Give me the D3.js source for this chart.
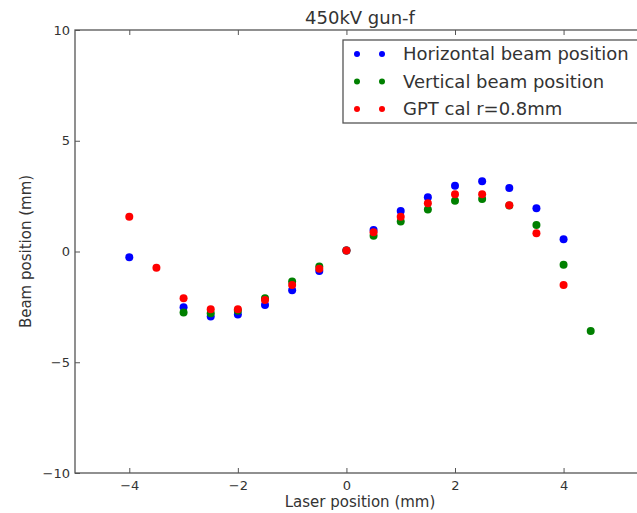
<!DOCTYPE html>
<html>
<head>
<meta charset="utf-8">
<script src="https://cdnjs.cloudflare.com/ajax/libs/d3/7.8.5/d3.min.js"></script>
<style>
  body { margin: 0; background: #fff; }
  svg { display: block; font-family: "DejaVu Sans", sans-serif; }
</style>
</head>
<body>
<svg width="637" height="513"></svg>
<script>
// values
var xTicks = [-4, -2, 0, 2, 4];
var yTicks = [-10, -5, 0, 5, 10];

var horizX = [-4, -3, -2.5, -2, -1.5, -1, -0.5, 0, 0.5, 1, 1.5, 2, 2.5, 3, 3.5, 4];
var horizY = [-0.26, -2.52, -2.94, -2.84, -2.42, -1.75, -0.88, 0.05, 0.97, 1.83, 2.45, 2.97, 3.17, 2.87, 1.95, 0.55];

var vertX = [-3, -2.5, -2, -1.5, -1, -0.5, 0, 0.5, 1, 1.5, 2, 2.5, 3, 3.5, 4, 4.5];
var vertY = [-2.75, -2.79, -2.67, -2.11, -1.36, -0.68, 0.05, 0.71, 1.35, 1.9, 2.29, 2.37, 2.08, 1.2, -0.6, -3.59];

var gptX = [-4, -3.5, -3, -2.5, -2, -1.5, -1, -0.5, 0, 0.5, 1, 1.5, 2, 2.5, 3, 3.5, 4];
var gptY = [1.57, -0.73, -2.11, -2.61, -2.61, -2.19, -1.51, -0.78, 0.04, 0.87, 1.57, 2.18, 2.58, 2.58, 2.09, 0.82, -1.51];

var seriesNames = ["Horizontal beam position", "Vertical beam position", "GPT cal r=0.8mm"];
var seriesColors = ["#0000ff", "#008000", "#ff0000"];

(function () {
    var margin = { top: 30, left: 75 };
    var width = 570, height = 443;

    var svg = d3.select("svg");
    var g = svg.append("g")
        .attr("transform", "translate(" + margin.left + "," + margin.top + ")");

    var x = d3.scaleLinear().domain([-5, 5.5]).range([0, width]);
    var y = d3.scaleLinear().domain([-10, 10]).range([height, 0]);

    var fmt = function (d) { return d3.format("d")(d).replace("-", "\u2212"); };

    // axes, ticks pointing inwards
    g.append("g")
        .attr("transform", "translate(0," + height + ")")
        .call(d3.axisBottom(x).tickValues(xTicks).tickFormat(fmt).tickSizeInner(-5).tickSizeOuter(0).tickPadding(8));
    g.append("g")
        .call(d3.axisTop(x).tickValues(xTicks).tickFormat("").tickSizeInner(-5).tickSizeOuter(0));
    g.append("g")
        .call(d3.axisLeft(y).tickValues(yTicks).tickFormat(fmt).tickSizeInner(-5).tickSizeOuter(0).tickPadding(5));
    g.append("g")
        .attr("transform", "translate(" + width + ",0)")
        .call(d3.axisRight(y).tickValues(yTicks).tickFormat("").tickSizeInner(-5).tickSizeOuter(0));

    g.selectAll(".domain").remove();
    g.selectAll(".tick line").attr("stroke", "#555");
    g.selectAll(".tick text").attr("font-size", 13).attr("fill", "#333")
        .attr("font-family", "DejaVu Sans, sans-serif");

    g.append("rect")
        .attr("width", width).attr("height", height)
        .attr("fill", "none").attr("stroke", "#555").attr("stroke-width", 1.3);

    var series = [
        { xs: horizX, ys: horizY },
        { xs: vertX, ys: vertY },
        { xs: gptX, ys: gptY }
    ];

    series.forEach(function (s, i) {
        g.append("g").selectAll("circle")
            .data(s.xs.map(function (v, j) { return [v, s.ys[j]]; }))
            .enter().append("circle")
            .attr("cx", function (d) { return x(d[0]); })
            .attr("cy", function (d) { return y(d[1]); })
            .attr("r", 4)
            .attr("fill", seriesColors[i]);
    });

    // title and labels
    svg.append("text")
        .attr("x", margin.left + width / 2).attr("y", 24)
        .attr("text-anchor", "middle").attr("font-size", 18).attr("fill", "#333")
        .text("450kV gun-f");
    svg.append("text")
        .attr("x", margin.left + width / 2).attr("y", 507)
        .attr("text-anchor", "middle").attr("font-size", 15).attr("fill", "#333")
        .text("Laser position (mm)");
    svg.append("text")
        .attr("transform", "translate(31," + (margin.top + height / 2) + ") rotate(-90)")
        .attr("text-anchor", "middle").attr("font-size", 15).attr("fill", "#333")
        .text("Beam position (mm)");

    // legend
    var lg = svg.append("g").attr("transform", "translate(343,40)");
    lg.append("rect")
        .attr("width", 300).attr("height", 83)
        .attr("fill", "#fff").attr("stroke", "#555").attr("stroke-width", 1.3);
    var row = lg.selectAll(".row")
        .data(seriesNames)
        .enter().append("g")
        .attr("transform", function (d, i) { return "translate(0," + (14 + i * 27.5) + ")"; });
    row.append("circle").attr("cx", 14).attr("r", 3)
        .attr("fill", function (d, i) { return seriesColors[i]; });
    row.append("circle").attr("cx", 39).attr("r", 3)
        .attr("fill", function (d, i) { return seriesColors[i]; });
    row.append("text")
        .attr("x", 60).attr("dy", "0.35em")
        .attr("font-size", 18).attr("fill", "#333")
        .text(function (d) { return d; });
}());
</script>
</body>
</html>
